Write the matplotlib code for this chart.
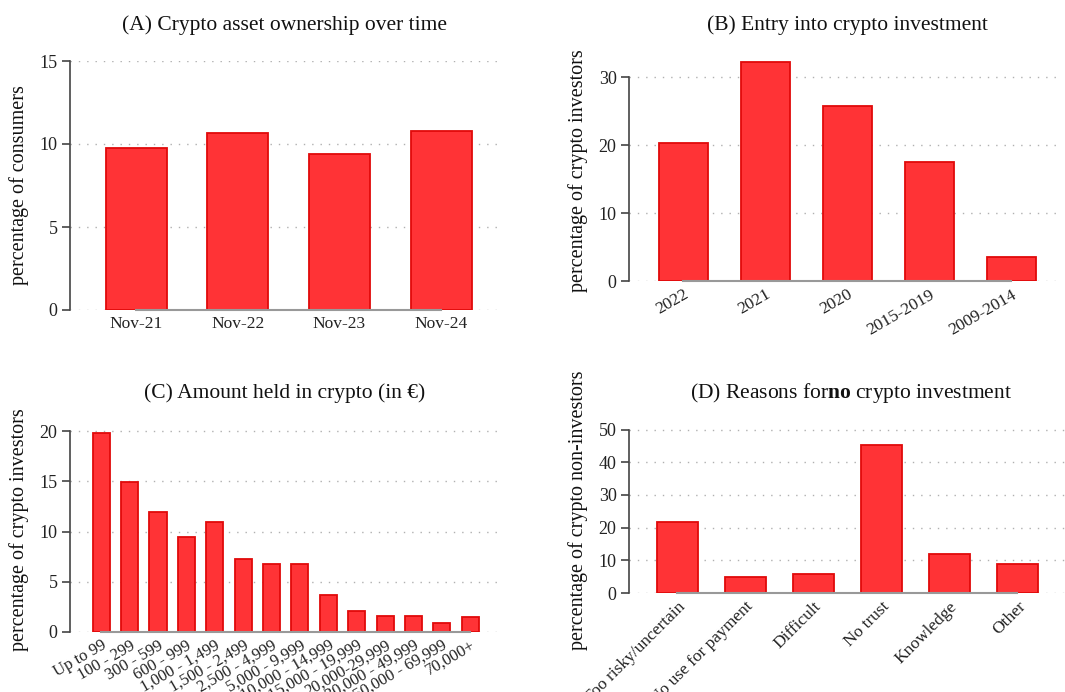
import matplotlib
matplotlib.use("Agg")
import matplotlib.pyplot as plt
import numpy as np

plt.rcParams['font.family'] = ['Liberation Serif', 'DejaVu Serif']
plt.rcParams['mathtext.fontset'] = 'custom'
plt.rcParams['mathtext.rm'] = 'Liberation Serif'
plt.rcParams['mathtext.bf'] = 'Liberation Serif:bold'
plt.rcParams['mathtext.it'] = 'Liberation Serif:italic'

# Panel A
a_labels = ["Nov-21", "Nov-22", "Nov-23", "Nov-24"]
a_values = [9.78, 10.65, 9.4, 10.78]
# Panel B
b_labels = ["2022", "2021", "2020", "2015-2019", "2009-2014"]
b_values = [20.3, 32.3, 25.8, 17.5, 3.5]
# Panel C
c_labels = ["Up to 99", "100 - 299", "300 - 599", "600 - 999", "1,000 - 1,499",
            "1,500 - 2,499", "2,500 - 4,999", "5,000 - 9,999", "10,000 - 14,999",
            "15,000 - 19,999", "20,000-29,999", "30,000 - 49,999", "50,000 - 69,999",
            "70,000+"]
c_values = [19.8, 14.9, 11.9, 9.5, 10.9, 7.3, 6.8, 6.8, 3.65, 2.07, 1.57, 1.57, 0.9, 1.5]
# Panel D
d_labels = ["Too risky/uncertain", "No use for payment", "Difficult", "No trust",
            "Knowledge", "Other"]
d_values = [21.6, 4.9, 5.9, 45.4, 12.0, 8.9]

FACE = "#ff3336"
EDGE = "#e00a0a"
W, H = 1065, 692
fig = plt.figure(figsize=(W / 100, H / 100), dpi=100)


def make_ax(left, right, top, bottom):
    return fig.add_axes([left / W, (H - bottom) / H, (right - left) / W, (bottom - top) / H])


def style(ax, labels, values, yticks, ylim, xlim, ylabel, rot, ha, rmode, fs_tick=12.5):
    x = np.arange(len(values))
    ax.bar(x, values, width=0.6, color=FACE, edgecolor=EDGE, linewidth=1.3, zorder=2)
    ax.set_xlim(*xlim)
    ax.set_ylim(*ylim)
    ax.set_yticks(yticks)
    ax.set_yticklabels([str(t) for t in yticks], fontsize=13, color="#222222")
    ax.set_xticks(x)
    ax.set_xticklabels(labels, rotation=rot, ha=ha, rotation_mode=rmode, fontsize=fs_tick, color="#222222")
    ax.tick_params(axis='x', length=0, pad=4)
    ax.tick_params(axis='y', length=6, width=1.2, color="#444444", direction='out', pad=3)
    for yt in yticks:
        ax.axhline(yt, color="#b0b0b0", linestyle=(0, (1, 5)), linewidth=1.0, zorder=0.5)
    for s in ['top', 'right']:
        ax.spines[s].set_visible(False)
    ax.spines['left'].set_bounds(yticks[0], yticks[-1])
    ax.spines['left'].set_color("#444444")
    ax.spines['left'].set_linewidth(1.2)
    ax.spines['bottom'].set_bounds(0, len(values) - 1)
    ax.spines['bottom'].set_color("#999999")
    ax.spines['bottom'].set_linewidth(1.5)
    ax.spines['bottom'].set_zorder(3)
    ax.set_ylabel(ylabel, fontsize=14.5, color="#111111")
    ax.yaxis.set_label_coords(-0.095, 0.5)


TITLE_KW = dict(fontsize=15.5, color="#111111")

axA = make_ax(70, 500, 61, 310)
style(axA, a_labels, a_values, [0, 5, 10, 15], (0, 15), (-0.65, 3.58),
      "percentage of consumers", 0, 'center', 'default')
fig.text(285 / W, 1 - 25 / H, "(A) Crypto asset ownership over time", ha='center', va='center', **TITLE_KW)

axB = make_ax(629, 1062, 61, 281)
style(axB, b_labels, b_values, [0, 10, 20, 30], (0, 32.4), (-0.66, 4.62),
      "percentage of crypto investors", 30, 'right', 'anchor')
fig.text(847 / W, 1 - 25 / H, "(B) Entry into crypto investment", ha='center', va='center', **TITLE_KW)

axC = make_ax(70, 500, 428, 632)
style(axC, c_labels, c_values, [0, 5, 10, 15, 20], (0, 20.3), (-1.1, 14.05),
      "percentage of crypto investors", 30, 'right', 'anchor', 12)
fig.text(285 / W, 1 - 393 / H, "(C) Amount held in crypto (in \u20ac)", ha='center', va='center', **TITLE_KW)

axD = make_ax(629, 1065, 428, 593)
style(axD, d_labels, d_values, [0, 10, 20, 30, 40, 50], (0, 50.5), (-0.71, 5.7),
      "percentage of crypto non-investors", 45, 'right', 'anchor')
fig.text(851 / W, 1 - 393 / H, "(D) Reasons for$\\mathbf{no}$ crypto investment", ha='center', va='center', **TITLE_KW)

fig.savefig("out.png", dpi=100)
